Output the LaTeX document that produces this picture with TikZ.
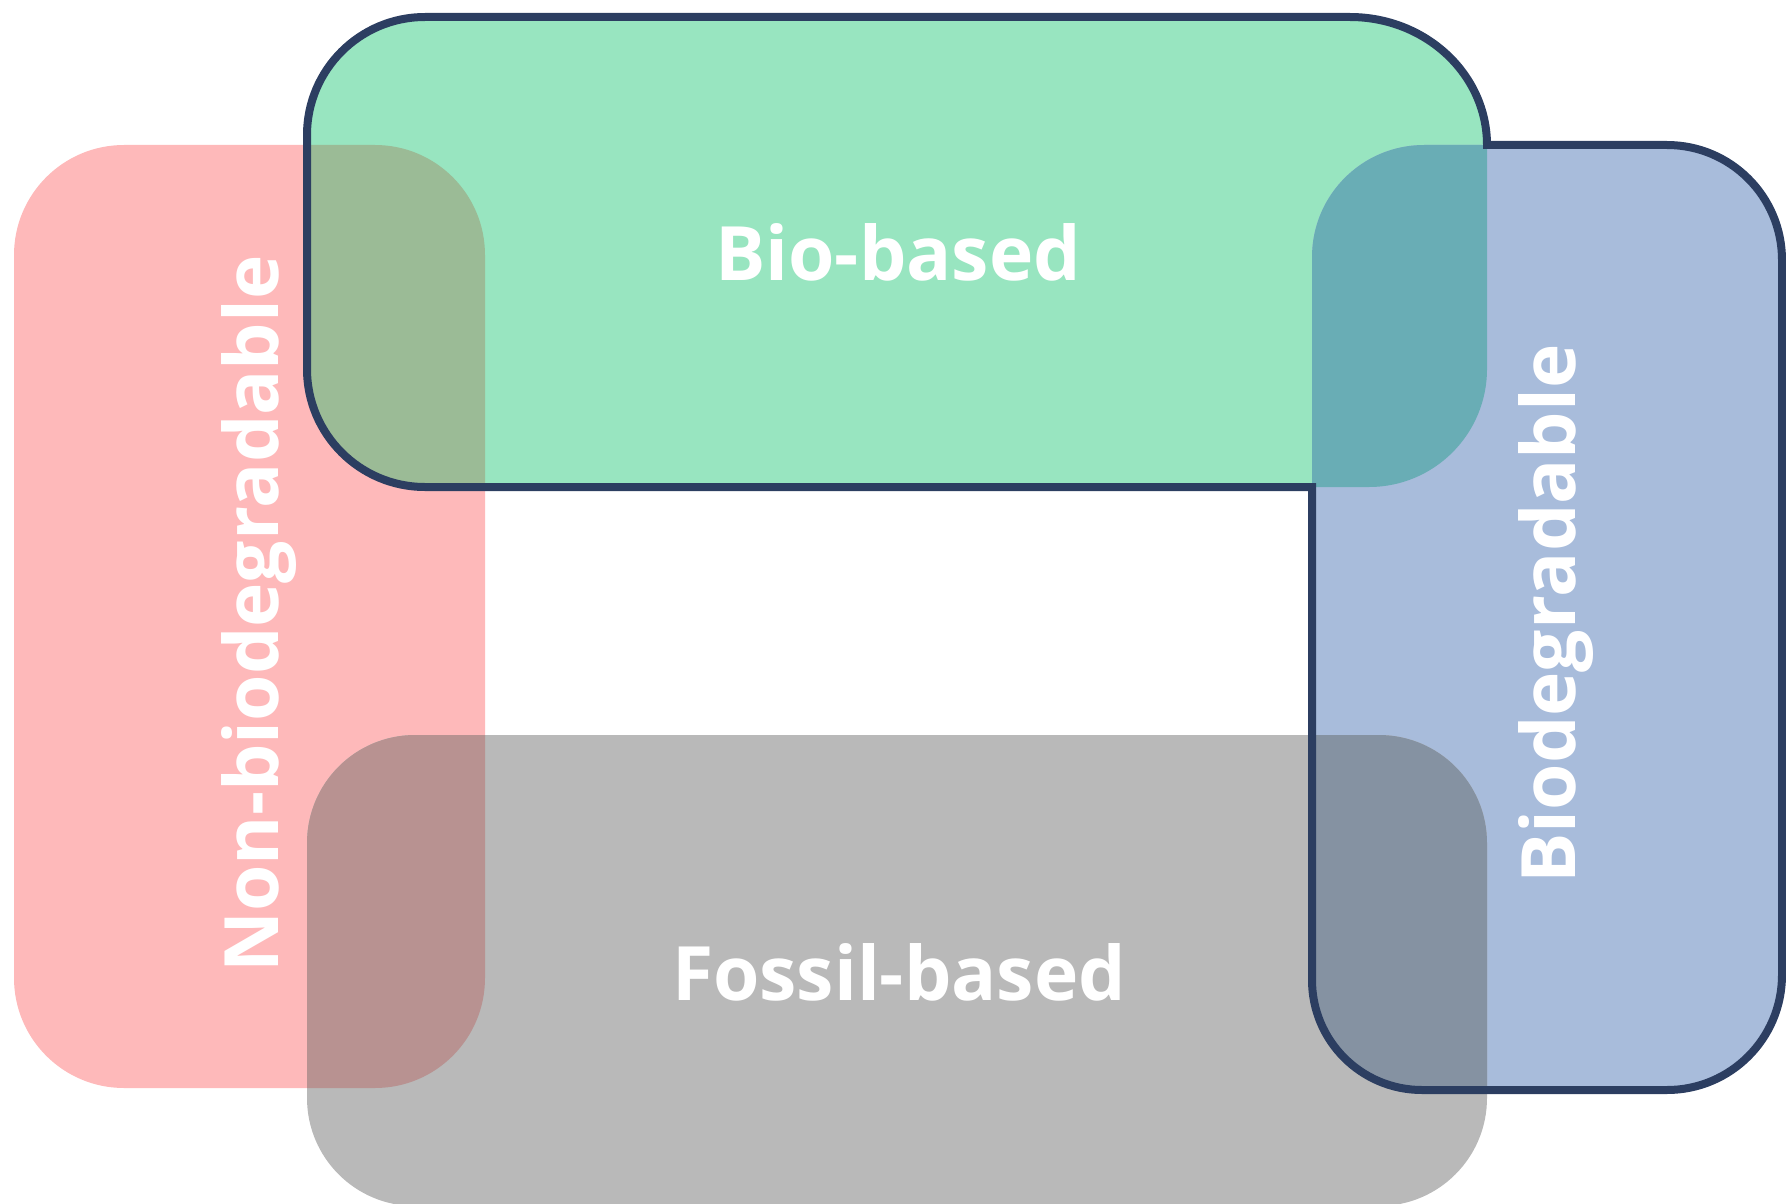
\documentclass[tikz,border=0pt]{standalone}
\usepackage{fontspec}
\setmainfont{Open Sans}
\definecolor{biogreen}{HTML}{98E5C0}
\definecolor{nonpink}{HTML}{FEB9BA}
\definecolor{fossilgray}{HTML}{B9B9B9}
\definecolor{degblue}{HTML}{A8BCDB}
\definecolor{pinkgreen}{HTML}{9BBB96}
\definecolor{greenblue}{HTML}{69ADB5}
\definecolor{pinkgray}{HTML}{B89291}
\definecolor{grayblue}{HTML}{8592A2}
\definecolor{edgeblue}{HTML}{2C3E61}
\def\nonbox{(14,145) rectangle (485,1088)}
\def\biobox{(307,135) arc (180:270:118) -- (1350,17) arc (270:360:137 and 128) -- (1487,369) arc (0:90:118) -- (425,487) arc (90:180:118) -- cycle}
\def\degbox{(1312,145) rectangle (1782,1090)}
\def\fossilbox{(307,735) rectangle (1487,1206)}
\begin{document}
\begin{tikzpicture}[x=1pt,y=-1pt,
    setname/.style={text=white,inner sep=0pt,font=\bfseries\fontsize{75}{75}\selectfont}]
    \useasboundingbox (0,0) rectangle (1786,1204);
    \fill[nonpink,rounded corners=110pt] \nonbox;
    \fill[biogreen] \biobox;
    \fill[degblue,rounded corners=112pt] \degbox;
    \fill[fossilgray,rounded corners=108pt] \fossilbox;
    % overlaps
    \begin{scope}
        \clip[rounded corners=110pt] \nonbox;
        \fill[pinkgreen] \biobox;
        \fill[pinkgray,rounded corners=108pt] \fossilbox;
    \end{scope}
    \begin{scope}
        \clip[rounded corners=112pt] \degbox;
        \fill[greenblue] \biobox;
        \fill[grayblue,rounded corners=108pt] \fossilbox;
    \end{scope}
    % outline of bio-based + biodegradable
    \draw[edgeblue,line width=8pt] (307,135) arc (180:270:118) -- (1350,17) arc (270:360:137 and 128)
        -- (1667,145) arc (270:360:115) -- (1782,975) arc (0:90:115) -- (1422,1090) arc (90:180:110)
        -- (1312,487) -- (425,487) arc (90:180:118) -- cycle;
    \node[setname,anchor=base] (bio) at (898,280) {Bio-based};
    \node[setname,anchor=base] (fossil) at (899,1000) {Fossil-based};
    \node[setname,anchor=base,rotate=90] (non) at (278,614) {Non-biodegradable};
    \node[setname,anchor=base,rotate=90] (deg) at (1575,614) {Biodegradable};
\end{tikzpicture}
\end{document}
